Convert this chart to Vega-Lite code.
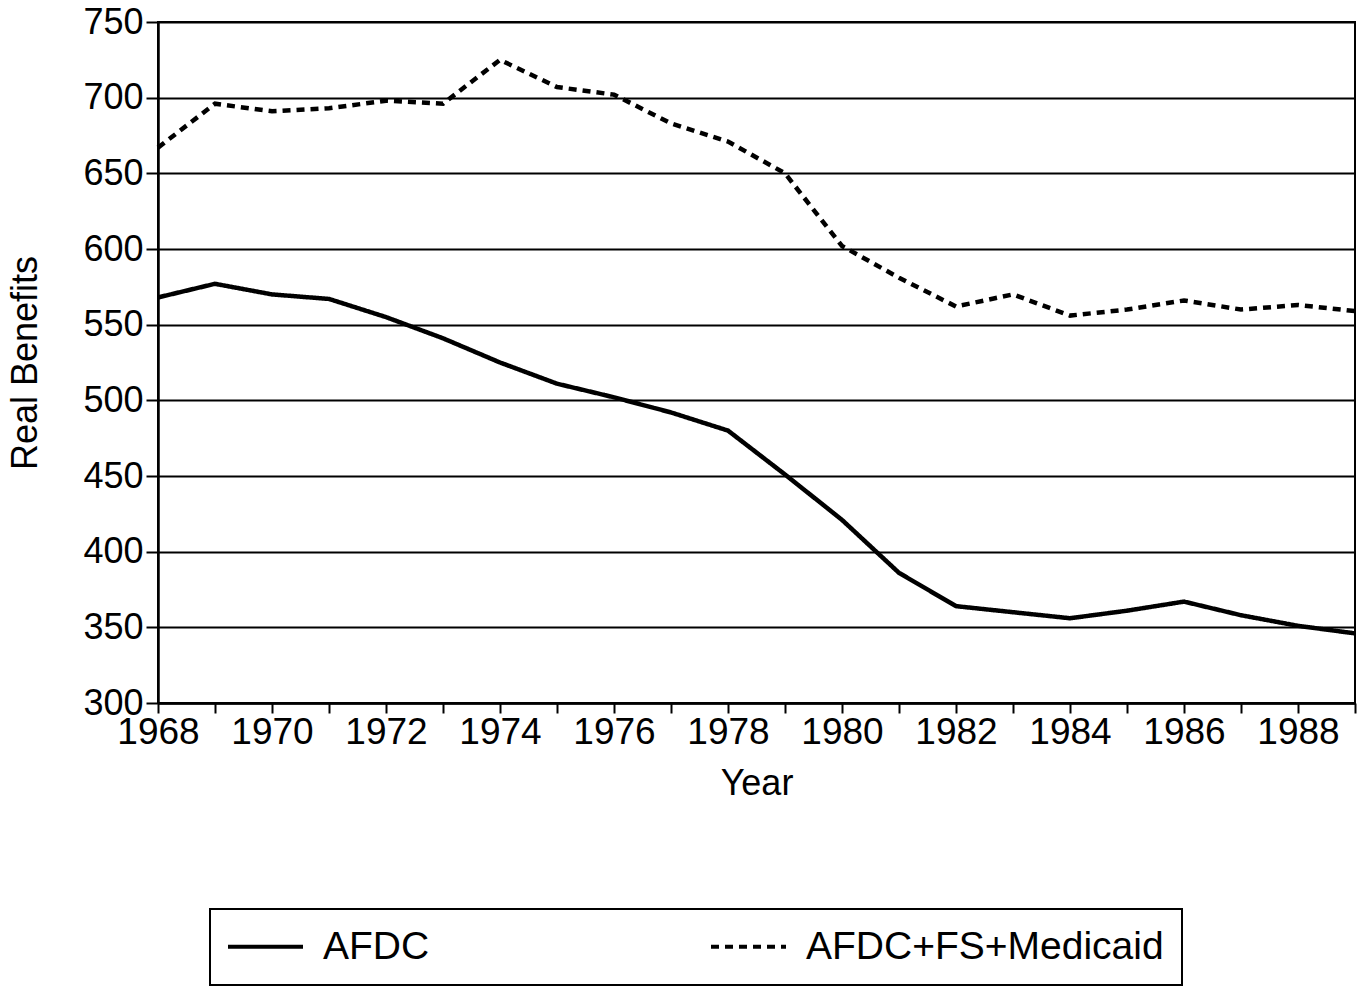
{
  "$schema": "https://vega.github.io/schema/vega-lite/v6.json",
  "autosize": {"type": "none"},
  "padding": {"left": 158, "top": 22, "right": 2, "bottom": 285},
  "width": 1197,
  "height": 681,
  "background": "white",
  "config": {
    "font": "Liberation Sans",
    "view": {"stroke": "black", "strokeWidth": 2},
    "axis": {
      "labelFont": "Liberation Sans",
      "titleFont": "Liberation Sans",
      "labelColor": "black",
      "titleColor": "black",
      "titleFontSize": 36,
      "titleFontWeight": "normal",
      "domainColor": "black",
      "domainWidth": 2.5,
      "tickColor": "black",
      "tickWidth": 2,
      "labelFlush": false
    }
  },
  "data": {
    "values": [
      {"year": 1968, "series": "AFDC", "value": 568},
      {"year": 1969, "series": "AFDC", "value": 577},
      {"year": 1970, "series": "AFDC", "value": 570},
      {"year": 1971, "series": "AFDC", "value": 567},
      {"year": 1972, "series": "AFDC", "value": 555},
      {"year": 1973, "series": "AFDC", "value": 541},
      {"year": 1974, "series": "AFDC", "value": 525},
      {"year": 1975, "series": "AFDC", "value": 511},
      {"year": 1976, "series": "AFDC", "value": 502},
      {"year": 1977, "series": "AFDC", "value": 492},
      {"year": 1978, "series": "AFDC", "value": 480},
      {"year": 1979, "series": "AFDC", "value": 451},
      {"year": 1980, "series": "AFDC", "value": 421},
      {"year": 1981, "series": "AFDC", "value": 386},
      {"year": 1982, "series": "AFDC", "value": 364},
      {"year": 1983, "series": "AFDC", "value": 360},
      {"year": 1984, "series": "AFDC", "value": 356},
      {"year": 1985, "series": "AFDC", "value": 361},
      {"year": 1986, "series": "AFDC", "value": 367},
      {"year": 1987, "series": "AFDC", "value": 358},
      {"year": 1988, "series": "AFDC", "value": 351},
      {"year": 1989, "series": "AFDC", "value": 346},
      {"year": 1968, "series": "AFDC+FS+Medicaid", "value": 667},
      {"year": 1969, "series": "AFDC+FS+Medicaid", "value": 696},
      {"year": 1970, "series": "AFDC+FS+Medicaid", "value": 691},
      {"year": 1971, "series": "AFDC+FS+Medicaid", "value": 693},
      {"year": 1972, "series": "AFDC+FS+Medicaid", "value": 698},
      {"year": 1973, "series": "AFDC+FS+Medicaid", "value": 696},
      {"year": 1974, "series": "AFDC+FS+Medicaid", "value": 725},
      {"year": 1975, "series": "AFDC+FS+Medicaid", "value": 707},
      {"year": 1976, "series": "AFDC+FS+Medicaid", "value": 702},
      {"year": 1977, "series": "AFDC+FS+Medicaid", "value": 683},
      {"year": 1978, "series": "AFDC+FS+Medicaid", "value": 671},
      {"year": 1979, "series": "AFDC+FS+Medicaid", "value": 650},
      {"year": 1980, "series": "AFDC+FS+Medicaid", "value": 602},
      {"year": 1981, "series": "AFDC+FS+Medicaid", "value": 581},
      {"year": 1982, "series": "AFDC+FS+Medicaid", "value": 562},
      {"year": 1983, "series": "AFDC+FS+Medicaid", "value": 570},
      {"year": 1984, "series": "AFDC+FS+Medicaid", "value": 556},
      {"year": 1985, "series": "AFDC+FS+Medicaid", "value": 560},
      {"year": 1986, "series": "AFDC+FS+Medicaid", "value": 566},
      {"year": 1987, "series": "AFDC+FS+Medicaid", "value": 560},
      {"year": 1988, "series": "AFDC+FS+Medicaid", "value": 563},
      {"year": 1989, "series": "AFDC+FS+Medicaid", "value": 559}
    ]
  },
  "mark": {"type": "line", "color": "black", "strokeWidth": 4.5},
  "encoding": {
    "x": {
      "field": "year",
      "type": "quantitative",
      "scale": {"domain": [1968, 1989], "nice": false, "zero": false},
      "axis": {
        "title": "Year",
        "values": [1968,1969,1970,1971,1972,1973,1974,1975,1976,1977,1978,1979,1980,1981,1982,1983,1984,1985,1986,1987,1988,1989],
        "format": "d",
        "labelExpr": "datum.value % 2 == 0 ? datum.label : ''",
        "labelFontSize": 37,
        "grid": false,
        "tickSize": 10,
        "labelPadding": 1,
        "titlePadding": 16,
        "labelOverlap": false
      }
    },
    "y": {
      "field": "value",
      "type": "quantitative",
      "scale": {"domain": [300, 750], "nice": false, "zero": false},
      "axis": {
        "title": "Real Benefits",
        "values": [300,350,400,450,500,550,600,650,700,750],
        "labelFontSize": 36,
        "grid": true,
        "gridColor": "black",
        "gridWidth": 2,
        "gridOpacity": 1,
        "tickSize": 12,
        "labelPadding": 3,
        "titlePadding": 38
      }
    },
    "strokeDash": {
      "field": "series",
      "type": "nominal",
      "scale": {"domain": ["AFDC", "AFDC+FS+Medicaid"], "range": [[1, 0], [8, 6]]},
      "legend": {
        "title": null,
        "orient": "none",
        "legendX": 52,
        "legendY": 887,
        "direction": "horizontal",
        "columns": 2,
        "columnPadding": 273,
        "strokeColor": "black",
        "padding": 18,
        "symbolType": "M-2.6,0H7.4",
        "symbolSize": 225,
        "symbolStrokeWidth": 4,
        "symbolStrokeColor": "black",
        "symbolOffset": 0,
        "labelOffset": 56,
        "labelFont": "Liberation Sans",
        "labelFontSize": 39,
        "labelColor": "black",
        "labelLimit": 600,
        "encode": {"legend": {"update": {"strokeWidth": {"value": 2}}}}
      }
    }
  }
}
